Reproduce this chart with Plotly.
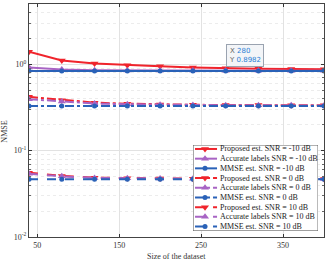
import math
import plotly.graph_objects as go

dataset_size = [40, 80, 120, 160, 200, 240, 280, 320, 360, 400]

prop_m10 = [1.40, 1.11, 1.02, 0.975, 0.95, 0.92, 0.8982, 0.89, 0.885, 0.88]
acc_m10 = [0.92, 0.87, 0.855, 0.85, 0.848, 0.846, 0.845, 0.845, 0.844, 0.844]
mmse_m10 = [0.838, 0.837, 0.837, 0.837, 0.837, 0.836, 0.836, 0.836, 0.836, 0.836]
prop_0 = [0.42, 0.385, 0.36, 0.35, 0.343, 0.34, 0.338, 0.337, 0.336, 0.335]
acc_0 = [0.395, 0.37, 0.352, 0.345, 0.34, 0.338, 0.336, 0.335, 0.335, 0.334]
mmse_0 = [0.330, 0.330, 0.330, 0.330, 0.330, 0.330, 0.330, 0.330, 0.330, 0.330]
prop_10 = [0.0555, 0.051, 0.0487, 0.048, 0.0476, 0.0474, 0.0472, 0.0471, 0.0471, 0.047]
acc_10 = [0.054, 0.0505, 0.0484, 0.0478, 0.0475, 0.0473, 0.0471, 0.047, 0.047, 0.047]
mmse_10 = [0.0466, 0.0466, 0.0466, 0.0466, 0.0466, 0.0466, 0.0466, 0.0466, 0.0466, 0.0466]

tip_x = 280
tip_y = 0.8982

RED = "#f0242c"
PURPLE = "#a864c4"
BLUE = "#2a62b8"
FONT = "Liberation Serif"

series = [
    ("Proposed est. SNR = -10 dB", prop_m10, RED, "solid", "triangle-down"),
    ("Accurate labels SNR = -10 dB", acc_m10, PURPLE, "solid", "triangle-up"),
    ("MMSE est. SNR = -10 dB", mmse_m10, BLUE, "solid", "circle"),
    ("Proposed est. SNR = 0 dB", prop_0, RED, "dashdot", "triangle-down"),
    ("Accurate labels SNR = 0 dB", acc_0, PURPLE, "dashdot", "triangle-up"),
    ("MMSE est. SNR = 0 dB", mmse_0, BLUE, "dashdot", "circle"),
    ("Proposed est. SNR = 10 dB", prop_10, RED, "dash", "triangle-down"),
    ("Accurate labels SNR = 10 dB", acc_10, PURPLE, "dash", "triangle-up"),
    ("MMSE est. SNR = 10 dB", mmse_10, BLUE, "dash", "circle"),
]

fig = go.Figure()
for name, vals, col, dash, sym in series:
    fig.add_trace(go.Scatter(
        x=dataset_size, y=vals, mode="lines+markers", name=name,
        line=dict(color=col, width=2, dash=dash),
        marker=dict(symbol=sym, size=7 if sym != "circle" else 5, color=col),
        showlegend=False,
    ))

# custom compact legend drawn on helper axes
row_h = 9.7
annotations = []
for i, (name, vals, col, dash, sym) in enumerate(series):
    yy = 4 + i * row_h
    fig.add_trace(go.Scatter(
        x=[2, 12, 24], y=[yy, yy, yy], mode="lines", xaxis="x2", yaxis="y2",
        line=dict(color=col, width=2, dash=dash), showlegend=False, hoverinfo="skip",
    ))
    fig.add_trace(go.Scatter(
        x=[12], y=[yy], mode="markers", xaxis="x2", yaxis="y2",
        marker=dict(symbol=sym, size=7 if sym != "circle" else 5, color=col),
        showlegend=False, hoverinfo="skip",
    ))
    annotations.append(dict(
        x=25, y=yy, xref="x2", yref="y2", text=name, showarrow=False,
        xanchor="left", yanchor="middle", font=dict(family=FONT, size=8, color="#222"),
    ))

annotations.append(dict(
    x=tip_x, y=math.log10(tip_y), xref="x", yref="y",
    text="<span style='color:#666'>X</span> <span style='color:#2a7fd4'>%d</span><br>"
         "<span style='color:#666'>Y</span> <span style='color:#2a7fd4'>%.4f</span>" % (tip_x, tip_y),
    showarrow=False, xanchor="left", yanchor="bottom", align="left",
    bgcolor="#f3f5f8", bordercolor="#9aa3b0", borderwidth=1, borderpad=2,
    yshift=1, font=dict(family="DejaVu Sans", size=7),
))
annotations.append(dict(
    x=0.5, y=0, xref="paper", yref="paper", text="Size of the dataset",
    showarrow=False, xanchor="center", yanchor="top", yshift=-13,
    font=dict(family=FONT, size=8, color="#333"),
))
annotations.append(dict(
    x=0, y=0.45, xref="paper", yref="paper", text="NMSE", textangle=-90,
    showarrow=False, xanchor="right", yanchor="middle", xshift=-18,
    font=dict(family=FONT, size=8, color="#333"),
))

fig.add_shape(type="rect", xref="x2", yref="y2", x0=0, x1=125, y0=0, y1=86,
              fillcolor="white", line=dict(color="#555", width=1), layer="below")

fig.update_layout(
    width=328, height=262,
    margin=dict(l=29, r=4, t=4, b=25),
    paper_bgcolor="white", plot_bgcolor="white",
    font=dict(family=FONT, size=8, color="#333"),
    annotations=annotations,
    xaxis=dict(
        range=[40, 400], tickvals=[50, 150, 250, 350],
        ticks="inside", ticklen=3, tickcolor="#333",
        showgrid=True, gridcolor="#e2e2e2", gridwidth=1,
        showline=True, linecolor="#444", linewidth=1, mirror="ticks",
        zeroline=False, automargin=False,
        tickfont=dict(family=FONT, size=8),
    ),
    yaxis=dict(
        type="log", range=[-2, math.log10(5)],
        tickvals=[0.01, 0.1, 1], ticktext=["10<sup>-2</sup>", "10<sup>-1</sup>", "10<sup>0</sup>"],
        ticks="inside", ticklen=3, tickcolor="#333",
        showgrid=True, gridcolor="#e2e2e2", gridwidth=1,
        minor=dict(ticks="inside", ticklen=2, tickcolor="#666", showgrid=True,
                   gridcolor="#ececec", griddash="dot", dtick="D1"),
        showline=True, linecolor="#444", linewidth=1, mirror="ticks",
        zeroline=False, automargin=False,
        tickfont=dict(family=FONT, size=8),
    ),
    xaxis2=dict(domain=[0.556, 0.980], range=[0, 125], anchor="y2",
                visible=False, fixedrange=True),
    yaxis2=dict(domain=[0.026, 0.395], range=[86, 0], anchor="x2",
                visible=False, fixedrange=True),
)

fig.write_html("out.html", config={"displayModeBar": False},
               post_script="document.body.style.margin='0px';")
